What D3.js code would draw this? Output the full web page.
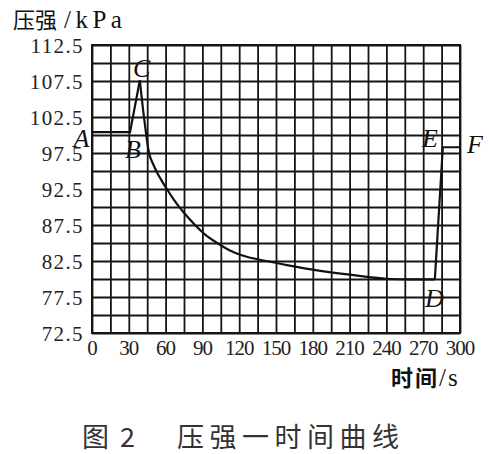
<!DOCTYPE html>
<html>
<head>
<meta charset="utf-8">
<script src="https://cdn.jsdelivr.net/npm/d3@7.9.0/dist/d3.min.js"></script>
<style>
  body { margin: 0; background: #fff; }
  svg { display: block; }
  .serif { font-family: "Liberation Serif", "DejaVu Serif", serif; }
  .cjk { font-family: "Noto Sans CJK SC", sans-serif; }
</style>
</head>
<body>
<svg id="chart" width="489" height="454"></svg>
<script>
// time (s) and pressure (kPa)
const times = [0, 31, 39, 42.5, 46.5, 50, 53, 57, 61, 66, 72, 78, 84, 92, 102, 112, 122, 142, 160, 180, 210, 243, 260, 279.5, 286, 300];
const pressures = [100.4, 100.4, 107.6, 102.3, 97.5, 95.9, 94.8, 93.6, 92.5, 91.2, 89.8, 88.6, 87.5, 86.2, 85.0, 84.0, 83.3, 82.5, 81.9, 81.3, 80.6, 80.0, 79.95, 79.95, 98.3, 98.3];

const xGrid = d3.range(0, 301, 15);
const yGrid = d3.range(72.5, 112.51, 2.5);
const xLabels = d3.range(0, 301, 30);
const yLabels = [72.5, 77.5, 82.5, 87.5, 92.5, 97.5, 102.5, 107.5, 112.5];

// point labels: letter, time, pressure (where the letter sits)
const pointNames = ['A', 'B', 'C', 'D', 'E', 'F'];
const pointAt = [[-15, 98.3], [26.9, 96.8], [33.4, 108.1], [271.5, 76.1], [269, 98.3], [305.7, 97.5]];

const plot = { left: 92, top: 45, right: 460, bottom: 333 };

const svg = d3.select('#chart');

const x = d3.scaleLinear().domain([0, 300]).range([plot.left, plot.right]);
const y = d3.scaleLinear().domain([72.5, 112.5]).range([plot.bottom, plot.top]);

const data = times.map((t, i) => ({ t, p: pressures[i] }));

// grid
svg.append('g')
  .attr('transform', `translate(0,${plot.bottom})`)
  .call(d3.axisBottom(x).tickValues(xGrid).tickSize(-(plot.bottom - plot.top)).tickFormat(''))
  .call(g => g.select('.domain').remove())
  .selectAll('line').attr('stroke', '#151515').attr('stroke-width', 1.8);

svg.append('g')
  .attr('transform', `translate(${plot.left},0)`)
  .call(d3.axisLeft(y).tickValues(yGrid).tickSize(-(plot.right - plot.left)).tickFormat(''))
  .call(g => g.select('.domain').remove())
  .selectAll('line').attr('stroke', '#151515').attr('stroke-width', 1.8);

svg.append('rect')
  .attr('x', plot.left).attr('y', plot.top)
  .attr('width', plot.right - plot.left).attr('height', plot.bottom - plot.top)
  .attr('fill', 'none').attr('stroke', '#151515').attr('stroke-width', 2);

// tick labels
svg.append('g')
  .attr('class', 'serif')
  .selectAll('text')
  .data(xLabels)
  .join('text')
  .attr('x', d => x(d))
  .attr('y', 355)
  .attr('text-anchor', 'middle')
  .attr('font-size', 21)
  .attr('letter-spacing', -1)
  .attr('fill', '#222')
  .text(d => d);

svg.append('g')
  .attr('class', 'serif')
  .selectAll('text')
  .data(yLabels)
  .join('text')
  .attr('x', 84)
  .attr('y', d => y(d))
  .attr('dy', '0.4em')
  .attr('text-anchor', 'end')
  .attr('font-size', 21)
  .attr('letter-spacing', 1.4)
  .attr('fill', '#222')
  .text(d => d.toFixed(1));

// curve: rise, decay, recovery
const straight = d3.line().x(d => x(d.t)).y(d => y(d.p));
const smooth = d3.line().x(d => x(d.t)).y(d => y(d.p)).curve(d3.curveMonotoneX);

const curve = svg.append('g')
  .attr('fill', 'none')
  .attr('stroke', '#111')
  .attr('stroke-width', 2.2)
  .attr('stroke-linejoin', 'miter');

curve.append('path').attr('d', straight(data.slice(0, 3)));
curve.append('path').attr('d', smooth(data.slice(2, 24)));
curve.append('path').attr('d', straight(data.slice(23)));

// point letters
svg.append('g')
  .attr('class', 'serif')
  .selectAll('text')
  .data(pointNames)
  .join('text')
  .attr('x', (d, i) => x(pointAt[i][0]))
  .attr('y', (d, i) => y(pointAt[i][1]))
  .attr('font-size', 26)
  .attr('font-style', 'italic')
  .attr('fill', '#111')
  .text(d => d);

// axis titles
const yTitle = svg.append('text').attr('x', 13).attr('y', 28).attr('fill', '#111');
yTitle.append('tspan').attr('class', 'cjk').attr('font-size', 22).text('压强');
yTitle.append('tspan').attr('class', 'serif').attr('font-size', 25).attr('dx', 7).attr('letter-spacing', 4.5).text('/kPa');

const xTitle = svg.append('text').attr('x', 391).attr('y', 386).attr('fill', '#111');
xTitle.append('tspan').attr('class', 'cjk').attr('font-size', 22).attr('font-weight', 'bold').attr('letter-spacing', 2).text('时间');
xTitle.append('tspan').attr('class', 'serif').attr('font-size', 25).attr('letter-spacing', 2).text('/s');

// caption
const caption = svg.append('g').attr('class', 'cjk').attr('fill', '#333').attr('font-size', 27);
caption.append('text').attr('x', 82).attr('y', 447).text('图');
caption.append('text').attr('x', 120).attr('y', 447).text('2');
caption.append('text').attr('x', 177).attr('y', 447).attr('letter-spacing', 5.5).text('压强一时间曲线');
</script>
</body>
</html>
